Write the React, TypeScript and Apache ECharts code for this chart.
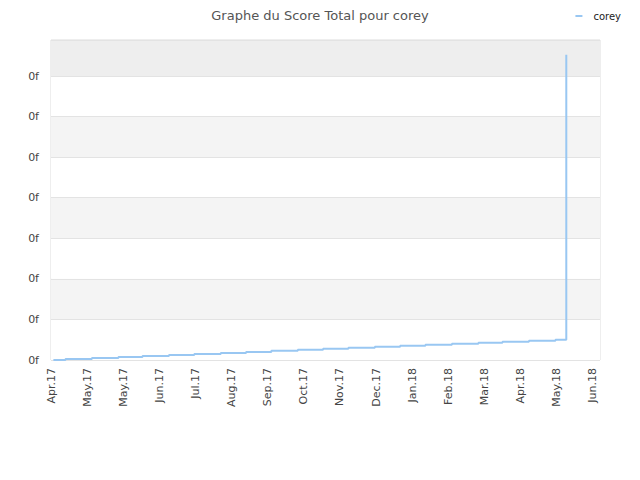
import { useEffect, useRef } from "react";
import * as echarts from "echarts";

type EChartsOption = echarts.EChartsOption;

// jours depuis le 1er avril 2017
const stepDays = [2, 12, 34, 56, 76, 98, 119, 141, 162, 183, 205, 226, 247, 269, 290, 311, 333, 355, 375, 397, 419, 428];
const scores = [0, 1, 2, 3, 4, 5, 6, 7, 8, 9, 10, 11, 12, 13, 14, 15, 16, 17, 18, 19, 20, 301];

const xTickLabels = [
  "Apr.17", "May.17", "May.17", "Jun.17", "Jul.17", "Aug.17", "Sep.17", "Oct.17",
  "Nov.17", "Dec.17", "Jan.18", "Feb.18", "Mar.18", "Apr.18", "May.18", "Jun.18",
];
const yTickLabel = "0f";

const FONT = "DejaVu Sans";

export default function App() {
  const chartRef = useRef<HTMLDivElement>(null);

  useEffect(() => {
    if (!chartRef.current) return;
    const chart = echarts.init(chartRef.current, undefined, { renderer: "svg" });

    const option: EChartsOption = {
      animation: false,
      backgroundColor: "#fff",
      title: {
        text: "Graphe du Score Total pour corey",
        left: "center",
        top: 4,
        textStyle: { fontFamily: FONT, fontSize: 13, fontWeight: "normal", color: "#555" },
      },
      legend: {
        right: 14,
        top: 6,
        icon: "rect",
        itemWidth: 7,
        itemHeight: 2,
        itemGap: 6,
        textStyle: { fontFamily: FONT, fontSize: 10, color: "#222", padding: [0, 0, 0, 6] },
        data: ["corey"],
      },
      grid: {
        left: 51,
        right: 40,
        top: 40,
        bottom: 120,
        show: true,
        borderColor: "#dddddd",
        borderWidth: 1,
        backgroundColor: "transparent",
      },
      xAxis: {
        type: "value",
        min: 0,
        max: 456,
        interval: 30,
        axisLine: { show: false },
        axisTick: { show: false },
        splitLine: { show: false },
        axisLabel: {
          rotate: 90,
          margin: 8,
          fontFamily: FONT,
          fontSize: 11,
          color: "#444",
          showMaxLabel: false,
          formatter: (v: number) => xTickLabels[Math.round(v / 30)] ?? "",
        },
      },
      yAxis: {
        type: "value",
        min: 0,
        max: 315.5,
        interval: 40,
        axisLine: { show: false },
        axisTick: { show: false },
        splitLine: { show: true, lineStyle: { color: "#e3e3e3", width: 1 } },
        splitArea: {
          show: true,
          areaStyle: {
            color: ["#ffffff", "#f4f4f4", "#ffffff", "#f4f4f4", "#ffffff", "#f4f4f4", "#ffffff", "#eeeeee"],
          },
        },
        axisLabel: {
          margin: 12,
          fontFamily: FONT,
          fontSize: 11,
          color: "#444",
          showMaxLabel: false,
          formatter: () => yTickLabel,
        },
      },
      series: [
        {
          name: "corey",
          type: "line",
          step: "end",
          showSymbol: false,
          color: "#99c7f2",
          lineStyle: { color: "#99c7f2", width: 2 },
          data: stepDays.map((d, i) => [d, scores[i]]),
        },
      ],
    };
    chart.setOption(option);

    return () => {
      chart.dispose();
    };
  }, []);

  return (
    <div
      ref={chartRef}
      style={{ position: "absolute", left: 0, top: 0, width: 640, height: 480 }}
    />
  );
}
